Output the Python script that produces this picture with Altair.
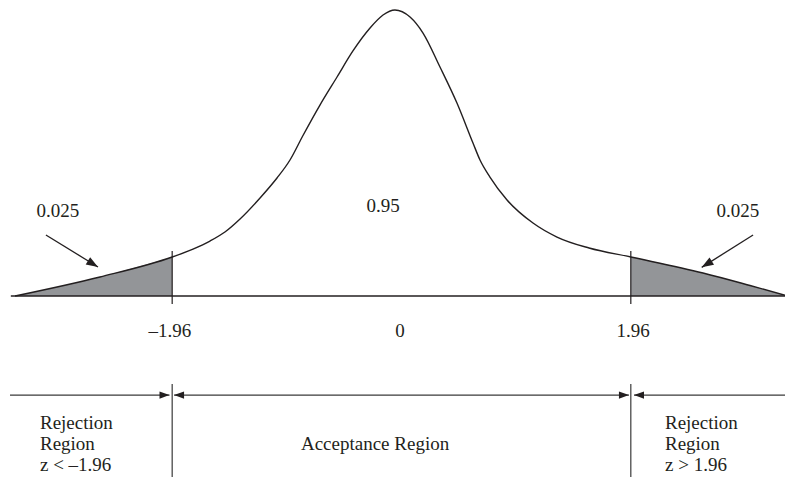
import altair as alt
import pandas as pd

# ---- data (z units / density units) ----
curve_z = [-3.303, -2.577, -1.96, -1.782, -1.637, -1.509, -1.380, -1.209, -1.064,
           -0.953, -0.842, -0.697, -0.551, -0.415, -0.269, -0.158, -0.056, 0.073,
           0.184, 0.329, 0.474, 0.611, 0.671, 0.756, 0.902, 1.124, 1.329, 1.603, 1.96,
           2.577, 2.979, 3.303]
curve_d = [0.0, 0.0266, 0.0545, 0.0657, 0.0769, 0.0895, 0.1077, 0.1371, 0.1650,
           0.1902, 0.2245, 0.2671, 0.3063, 0.3427, 0.3748, 0.3930, 0.4000, 0.3902,
           0.3678, 0.3203, 0.2699, 0.2140, 0.1902, 0.1664, 0.1343, 0.1021, 0.0825, 0.0671, 0.0545,
           0.0322, 0.0147, 0.0]

critical = [-1.96, 1.96]
tick_labels = ["–1.96", "0", "1.96"]
tail_labels = ["0.025", "0.025"]
center_label = "0.95"
left_region = ["Rejection", "Region", "z < –1.96"]
right_region = ["Rejection", "Region", "z > 1.96"]
accept_label = "Acceptance Region"

# ---- layout constants ----
XMIN, XMAX = -3.3632, 3.2778
YMIN, YMAX = -0.25315, 0.40280
INK = "#231f20"
FILL = "#939598"
FONT = "Liberation Serif"
FS = 19

xs = alt.Scale(domain=[XMIN, XMAX], nice=False, zero=False)
ys = alt.Scale(domain=[YMIN, YMAX], nice=False, zero=False)
X = lambda f: alt.X(f, type="quantitative", scale=xs, axis=None)
Y = lambda f: alt.Y(f, type="quantitative", scale=ys, axis=None)

curve = pd.DataFrame({"z": curve_z, "d": curve_d})
left_tail = curve[curve.z <= critical[0]]
right_tail = curve[curve.z >= critical[1]]

tail_left = alt.Chart(left_tail).mark_area(color=FILL, interpolate="monotone").encode(
    x=X("z"), y=Y("d"), y2=alt.datum(0))
tail_right = alt.Chart(right_tail).mark_area(color=FILL, interpolate="monotone").encode(
    x=X("z"), y=Y("d"), y2=alt.datum(0))

line = alt.Chart(curve).mark_line(color=INK, strokeWidth=1.4, interpolate="monotone").encode(
    x=X("z"), y=Y("d"))

baseline = alt.Chart(pd.DataFrame({"z": [-3.339], "z2": [3.33], "d": [0.0]})).mark_rule(
    color=INK, strokeWidth=1.6).encode(x=X("z"), x2="z2", y=Y("d"))

ticks = alt.Chart(pd.DataFrame({"z": critical, "d": [0.0629, 0.0629], "d2": [-0.0112, -0.0112]})).mark_rule(
    color=INK, strokeWidth=1.2).encode(x=X("z"), y=Y("d"), y2="d2")

# diagonal arrows pointing into the tails
arrows = pd.DataFrame({"z": [-3.039, 3.005], "d": [0.0853, 0.0853],
                       "z2": [-2.594, 2.566], "d2": [0.0406, 0.0401],
                       "ang": [31.6, 148.0]})
arrow_lines = alt.Chart(arrows).mark_rule(color=INK, strokeWidth=1.3).encode(
    x=X("z"), y=Y("d"), x2="z2", y2="d2")
HEAD = "M0,0 L-1,-0.36 L-1,0.36 Z"
arrow_heads = alt.Chart(arrows).mark_point(shape=HEAD, filled=True, opacity=1, color=INK,
                                           size=560, strokeWidth=0).encode(
    x=X("z2"), y=Y("d2"), angle=alt.Angle("ang:Q", scale=None))

# bottom region lines
seg = pd.DataFrame({"z": [-3.346, -1.944, 1.987], "z2": [-1.983, 1.944, 3.33],
                    "d": [-0.1385] * 3})
seg_lines = alt.Chart(seg).mark_rule(color="#3a3a3a", strokeWidth=1.2).encode(
    x=X("z"), x2="z2", y=Y("d"))
heads = pd.DataFrame({"z": [-1.983, -1.944, 1.944, 1.987], "d": [-0.1385] * 4,
                      "ang": [0, 180, 0, 180]})
seg_heads = alt.Chart(heads).mark_point(shape=HEAD, filled=True, opacity=1, color=INK,
                                        size=400, strokeWidth=0).encode(
    x=X("z"), y=Y("d"), angle=alt.Angle("ang:Q", scale=None))
dividers = alt.Chart(pd.DataFrame({"z": critical, "d": [-0.1231] * 2, "d2": [-0.2643] * 2})).mark_rule(
    color="#3a3a3a", strokeWidth=1.2).encode(x=X("z"), y=Y("d"), y2="d2")

# text
def txt(df, align):
    return alt.Chart(df).mark_text(font=FONT, fontSize=FS, color=INK, align=align,
                                   baseline="alphabetic").encode(
        x=X("z"), y=Y("d"), text="t:N")

tick_text = txt(pd.DataFrame({"z": [-1.979, -0.013, 1.979], "d": [-0.0573] * 3, "t": tick_labels}), "center")
tail_text = txt(pd.DataFrame({"z": [-2.936, 2.876], "d": [0.1105] * 2, "t": tail_labels}), "center")
center_text = txt(pd.DataFrame({"z": [-0.158], "d": [0.1175], "t": [center_label]}), "center")
left_text = txt(pd.DataFrame({"z": [-3.090] * 3, "d": [-0.1860, -0.2154, -0.2448], "t": left_region}), "left")
right_text = txt(pd.DataFrame({"z": [2.252] * 3, "d": [-0.1860, -0.2154, -0.2448], "t": right_region}), "left")
acc_text = txt(pd.DataFrame({"z": [-0.226], "d": [-0.2154], "t": [accept_label]}), "center")

chart = alt.layer(
    tail_left, tail_right, baseline, line, ticks, arrow_lines, arrow_heads,
    seg_lines, dividers, seg_heads,
    tick_text, tail_text, center_text, left_text, right_text, acc_text
).properties(width=777, height=469, padding=0, autosize="none", background="white"
).configure_view(stroke=None)

chart.save("out.html", embed_options={"renderer": "svg", "actions": False})
